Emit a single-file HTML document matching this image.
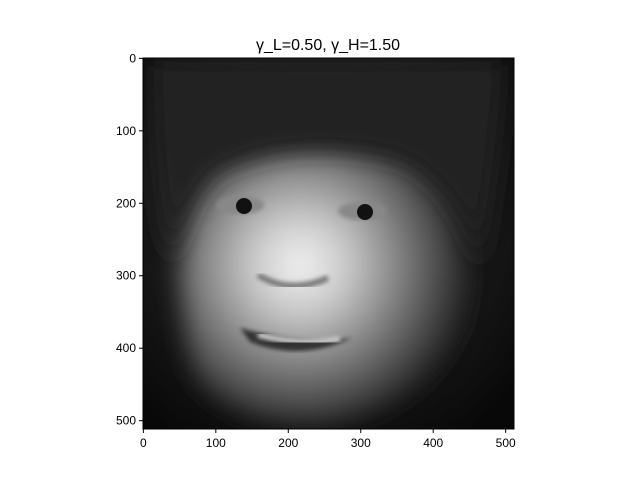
<!DOCTYPE html>
<html><head><meta charset="utf-8"><style>
body{margin:0;background:#fff;}
svg{display:block;font-family:"Liberation Sans","DejaVu Sans",sans-serif;}
</style></head><body>
<svg id="chart" width="640" height="480" viewBox="0 0 640 480">
<defs>
<radialGradient id="glow" gradientUnits="userSpaceOnUse" cx="300" cy="265" r="185">
<stop offset="0" stop-color="#f4f4f4"/>
<stop offset="0.25" stop-color="#cacaca"/>
<stop offset="0.55" stop-color="#7e7e7e"/>
<stop offset="0.85" stop-color="#303030"/>
<stop offset="1" stop-color="#121212"/>
</radialGradient>
<radialGradient id="bg" gradientUnits="userSpaceOnUse" cx="320" cy="220" r="260">
<stop offset="0" stop-color="#333"/>
<stop offset="1" stop-color="#080808"/>
</radialGradient>
<filter id="b10"><feGaussianBlur stdDeviation="12"/></filter>
<filter id="b2"><feGaussianBlur stdDeviation="2"/></filter>
<clipPath id="clip"><rect x="143" y="58" width="371" height="371"/></clipPath>
</defs>
<text x="328" y="50" text-anchor="middle" font-size="16">γ_L=0.50, γ_H=1.50</text>
<g clip-path="url(#clip)">
<rect x="143" y="58" width="371" height="371" fill="url(#bg)"/>
<path d="M180 160 Q300 120 450 170 Q480 260 460 330 Q420 410 320 425 Q230 425 195 375 Q172 300 180 160 Z" fill="url(#glow)" filter="url(#b10)"/>
<path d="M150 58 H505 Q505 120 480 270 Q455 185 400 160 Q300 135 220 172 Q192 195 172 265 Q150 200 150 58 Z" fill="#222" filter="url(#b10)"/>
<ellipse cx="240" cy="205" rx="24" ry="9" fill="#888" filter="url(#b2)"/>
<circle cx="244" cy="206" r="8" fill="#111"/>
<ellipse cx="362" cy="211" rx="24" ry="9" fill="#888" filter="url(#b2)"/>
<circle cx="365" cy="212" r="8" fill="#111"/>
<path d="M258 275 Q290 295 328 278" stroke="#777" stroke-width="6" fill="none" filter="url(#b2)"/>
<path d="M240 328 Q300 345 352 338 Q300 362 250 342 Z" fill="#333" filter="url(#b2)"/>
<path d="M258 335 Q300 346 340 339" stroke="#ddd" stroke-width="5" fill="none" filter="url(#b2)"/>
</g>
<rect x="143" y="58" width="371" height="371" fill="none" stroke="#000" stroke-width="1"/>
<g id="ticks"></g>
</svg>
<script>
const xTickValues=[0,100,200,300,400,500];
const yTickValues=[0,100,200,300,400,500];
const X0=143,Y0=58,S=371/512;
const xs=v=>X0+(v+0.5)*S, ys=v=>Y0+(v+0.5)*S;
const g=document.getElementById('ticks');
const NS='http://www.w3.org/2000/svg';
function mk(t,a){const e=document.createElementNS(NS,t);for(const k in a)e.setAttribute(k,a[k]);g.appendChild(e);return e;}
xTickValues.forEach(v=>{
 const l=mk('line',{x1:xs(v),x2:xs(v),y1:429,y2:433,stroke:'#000'});
 
 
 const t=mk('text',{x:xs(v),y:447,'text-anchor':'middle','font-size':12});
 t.textContent=v;
 
 
});
yTickValues.forEach(v=>{
 const l=mk('line',{x1:139,x2:143,y1:ys(v),y2:ys(v),stroke:'#000'});
 
 
 const t=mk('text',{x:136,y:ys(v)+4,'text-anchor':'end','font-size':12});
 t.textContent=v;
 
 
});
</script>
</body></html>
